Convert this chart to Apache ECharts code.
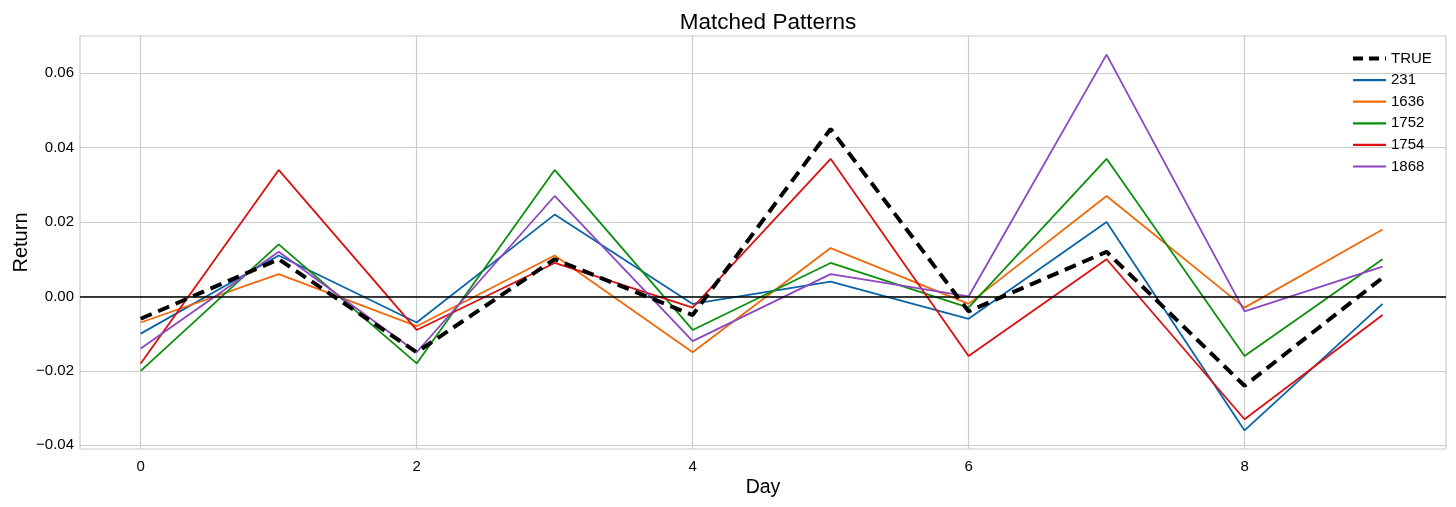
<!DOCTYPE html>
<html>
<head>
<meta charset="utf-8">
<script src="https://cdn.jsdelivr.net/npm/echarts@6/dist/echarts.min.js"></script>
<style>
html,body{margin:0;padding:0;background:#fff;}
#chart{width:1456px;height:507px;}
</style>
</head>
<body>
<div id="chart"></div>
<script>
const days = [0,1,2,3,4,5,6,7,8,9];
const xTicks = [0,2,4,6,8];
const yTicks = [-0.04,-0.02,0,0.02,0.04,0.06];
const seriesNames = ['TRUE','231','1636','1752','1754','1868'];
const trueVals  = [-0.006, 0.010, -0.015, 0.010, -0.005, 0.045, -0.004, 0.012, -0.024, 0.005];
const vals231   = [-0.010, 0.011, -0.007, 0.022, -0.002, 0.004, -0.006, 0.020, -0.036, -0.002];
const vals1636  = [-0.007, 0.006, -0.008, 0.011, -0.015, 0.013, -0.002, 0.027, -0.003, 0.018];
const vals1752  = [-0.020, 0.014, -0.018, 0.034, -0.009, 0.009, -0.003, 0.037, -0.016, 0.010];
const vals1754  = [-0.018, 0.034, -0.009, 0.009, -0.003, 0.037, -0.016, 0.010, -0.033, -0.005];
const vals1868  = [-0.014, 0.012, -0.015, 0.027, -0.012, 0.006, 0.000, 0.065, -0.004, 0.008];

const colors = ['#000000','#0a64a8','#f06a0a','#0a900a','#dc0f0f','#8c46c0'];
const allVals = [trueVals, vals231, vals1636, vals1752, vals1754, vals1868];

const fontFamily = '"Liberation Sans", Arial, sans-serif';
const fmt = v => {
  const s = Math.abs(v).toFixed(2);
  return (v < -1e-9 ? '\u2212' : '') + s;
};

const series = allVals.map((arr, i) => ({
  name: seriesNames[i],
  type: 'line',
  data: days.map((d, j) => [d, arr[j]]),
  symbol: 'none',
  z: i === 0 ? 10 : 3,
  lineStyle: i === 0
    ? { color: '#000', width: 4, type: [12, 7] }
    : { color: colors[i], width: 1.8 },
  itemStyle: { color: colors[i] },
  emphasis: { disabled: true },
  animation: false
}));
series[0].markLine = {
  silent: true,
  symbol: 'none',
  label: { show: false },
  lineStyle: { color: '#000', width: 1.6, type: 'solid' },
  data: [{ yAxis: 0 }],
  animation: false
};

const legendData = seriesNames.map((n, i) => i === 0
  ? { name: n, lineStyle: { width: 4, type: [10, 6], color: '#000' } }
  : { name: n, lineStyle: { width: 2.2, color: colors[i] } });

const chart = echarts.init(document.getElementById('chart'));
chart.setOption({
  backgroundColor: '#fff',
  animation: false,
  title: {
    text: 'Matched Patterns',
    left: 763, top: 6, textAlign: 'center',
    textStyle: { fontFamily, fontSize: 22.5, fontWeight: 'normal', color: '#000' }
  },
  legend: {
    orient: 'vertical',
    left: 1346, top: 46,
    itemWidth: 33, itemHeight: 14, itemGap: 6.6,
    itemStyle: { opacity: 0 },
    textStyle: { fontFamily, fontSize: 15, color: '#000' },
    data: legendData
  },
  grid: { left: 80, right: 10, top: 36, bottom: 58, outerBoundsMode: 'none', show: true, borderColor: '#cccccc', borderWidth: 1.2 },
  xAxis: {
    type: 'value', min: -0.44, max: 9.46,
    name: 'Day', nameLocation: 'middle', nameGap: 29, nameMoveOverlap: false,
    nameTextStyle: { fontFamily, fontSize: 19.5, color: '#000' },
    axisLine: { show: false },
    axisTick: { show: false, customValues: xTicks },
    axisLabel: { customValues: xTicks, fontFamily, fontSize: 15, color: '#000', margin: 10 },
    splitLine: { show: true, lineStyle: { color: '#cccccc', width: 1.2 } }
  },
  yAxis: {
    type: 'value', min: -0.041, max: 0.070,
    name: 'Return', nameLocation: 'middle', nameGap: 49, nameRotate: 90, nameMoveOverlap: false,
    nameTextStyle: { fontFamily, fontSize: 20, color: '#000' },
    axisLine: { show: false },
    axisTick: { show: false, customValues: yTicks },
    axisLabel: { customValues: yTicks, fontFamily, fontSize: 15, color: '#000', margin: 6, formatter: fmt },
    splitLine: { show: true, lineStyle: { color: '#cccccc', width: 1.2 } }
  },
  series
});
</script>
</body>
</html>
